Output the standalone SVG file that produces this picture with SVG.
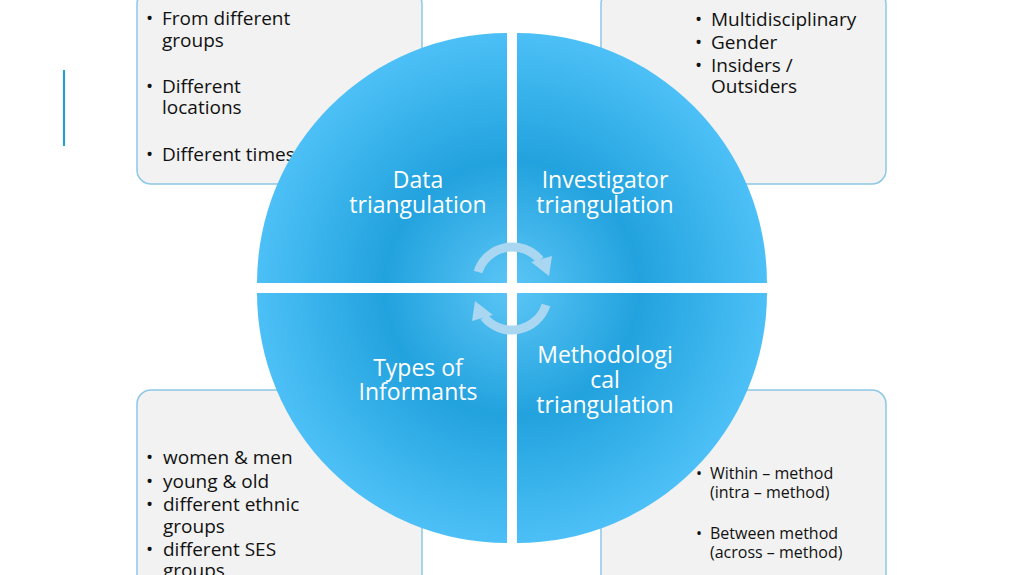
<svg xmlns="http://www.w3.org/2000/svg" width="1024" height="575" viewBox="0 0 1024 575">
<style>
.box{fill:#f2f2f2;stroke:#8cc8e6;stroke-width:1.5}
.bt{font-family:"Open Sans","Noto Sans",sans-serif;font-size:19px;fill:#111}
.st{font-family:"Open Sans","Noto Sans",sans-serif;font-size:16px;fill:#111}
.ql{font-family:"Open Sans","Noto Sans",sans-serif;font-size:23px;fill:#fff;text-anchor:middle}
.q{fill:url(#g)}
.arr{fill:none;stroke:#a9d6f0;stroke-width:9}
.ah{fill:#a9d6f0}
</style>
<defs>
<radialGradient id="g" cx="512" cy="288" r="255" gradientUnits="userSpaceOnUse">
<stop offset="0" stop-color="#5cc6f6"/><stop offset="0.5" stop-color="#22a2de"/><stop offset="1" stop-color="#4cc0f6"/>
</radialGradient>
</defs>
<rect width="1024" height="575" fill="#fff"/>
<line x1="64" y1="70" x2="64" y2="146" stroke="#1ca0d0" stroke-width="2"/>
<g id="box-tl"><rect class="box" x="137" y="-10" width="285" height="194" rx="14"/>
<text class="bt"><tspan x="146" y="25">•</tspan><tspan x="162" y="25">From different</tspan><tspan x="162" y="47">groups</tspan><tspan x="146" y="93">•</tspan><tspan x="162" y="93">Different</tspan><tspan x="162" y="114">locations</tspan><tspan x="146" y="161">•</tspan><tspan x="162" y="161">Different times</tspan></text></g>
<g id="box-tr"><rect class="box" x="601" y="-10" width="285" height="194" rx="14"/>
<text class="bt"><tspan x="695" y="26">•</tspan><tspan x="711" y="26">Multidisciplinary</tspan><tspan x="695" y="49">•</tspan><tspan x="711" y="49">Gender</tspan><tspan x="695" y="72">•</tspan><tspan x="711" y="72">Insiders /</tspan><tspan x="711" y="93">Outsiders</tspan></text></g>
<g id="box-bl"><rect class="box" x="137" y="390" width="285" height="200" rx="14"/>
<text class="bt"><tspan x="146" y="464">•</tspan><tspan x="163" y="464">women &amp; men</tspan><tspan x="146" y="488">•</tspan><tspan x="163" y="488">young &amp; old</tspan><tspan x="146" y="511">•</tspan><tspan x="163" y="511">different ethnic</tspan><tspan x="163" y="533">groups</tspan><tspan x="146" y="556">•</tspan><tspan x="163" y="556">different SES</tspan><tspan x="163" y="577">groups</tspan></text></g>
<g id="box-br"><rect class="box" x="601" y="390" width="285" height="200" rx="14"/>
<text class="st"><tspan x="696" y="479">•</tspan><tspan x="710" y="479">Within – method</tspan><tspan x="710" y="498">(intra – method)</tspan><tspan x="696" y="539">•</tspan><tspan x="710" y="539">Between method</tspan><tspan x="710" y="558">(across – method)</tspan></text></g>
<g id="q-data"><path class="q" d="M507,283 L257,283 A250,250 0 0 1 507,33 Z"/><text class="ql"><tspan x="418" y="188">Data</tspan><tspan x="418" y="213">triangulation</tspan></text></g>
<g id="q-inv"><path class="q" d="M517,283 L517,33 A250,250 0 0 1 767,283 Z"/><text class="ql"><tspan x="605" y="188">Investigator</tspan><tspan x="605" y="213">triangulation</tspan></text></g>
<g id="q-types"><path class="q" d="M507,293 L507,543 A250,250 0 0 1 257,293 Z"/><text class="ql"><tspan x="418" y="376">Types of</tspan><tspan x="418" y="400">Informants</tspan></text></g>
<g id="q-meth"><path class="q" d="M517,293 L767,293 A250,250 0 0 1 517,543 Z"/><text class="ql"><tspan x="605" y="363">Methodologi</tspan><tspan x="605" y="388">cal</tspan><tspan x="605" y="413">triangulation</tspan></text></g>
<g id="connectors">
<path class="arr" d="M478,272 A36,36 0 0 1 540,260"/><polygon class="ah" points="531,262 552,256 549,276"/>
<path class="arr" d="M546,305 A36,36 0 0 1 484,317"/><polygon class="ah" points="493,315 472,321 475,301"/>
</g>
</svg>
